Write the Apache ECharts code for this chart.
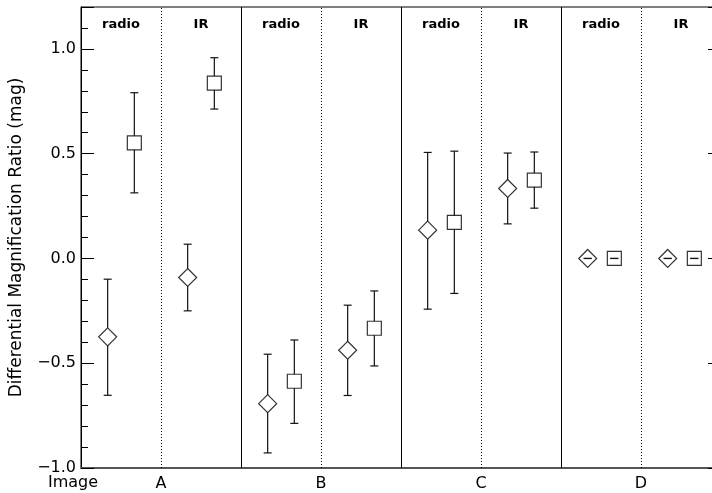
<!DOCTYPE html>
<html>
<head>
<meta charset="utf-8">
<script src="https://cdn.jsdelivr.net/npm/echarts@6/dist/echarts.min.js"></script>
<style>html,body{margin:0;padding:0;background:#fff;}#c{width:712px;height:493px;}</style>
</head>
<body>
<div id="c"></div>
<script>
// ---- data ----
var groupLabels = ['radio', 'IR', 'radio', 'IR', 'radio', 'IR', 'radio', 'IR'];
var xTickLabels = ['', 'A', '', 'B', '', 'C', '', 'D', ''];
var solidDividers = [2, 4, 6];
var dottedDividers = [1, 3, 5, 7];
var diamondVal = [-0.374, -0.091, -0.693, -0.438, 0.135, 0.334, 0, 0];
var diamondLo  = [-0.653, -0.250, -0.928, -0.654, -0.242, 0.165, 0, 0];
var diamondHi  = [-0.099, 0.068, -0.457, -0.223, 0.506, 0.503, 0, 0];
var squareVal  = [0.552, 0.837, -0.586, -0.333, 0.172, 0.374, 0, 0];
var squareLo   = [0.313, 0.713, -0.787, -0.513, -0.167, 0.240, 0, 0];
var squareHi   = [0.791, 0.958, -0.389, -0.155, 0.512, 0.508, 0, 0];
var yMin = -1.0, yMax = 1.2;
var yTitle = 'Differential Magnification Ratio (mag)';
var xTitle = 'Image';

var FONT = 'DejaVu Sans';
var chart = echarts.init(document.getElementById('c'), null, {renderer: 'canvas'});

function pts(vals, lo, hi, off) {
  return vals.map(function (v, k) { return [k + off, v, lo[k], hi[k]]; });
}
var diamondData = pts(diamondVal, diamondLo, diamondHi, 1 / 3);
var squareData = pts(squareVal, squareLo, squareHi, 2 / 3);

function errRender(half) {
  return function (params, api) {
    var x = api.value(0);
    var c = api.coord([x, api.value(1)]);
    var lo = api.coord([x, api.value(2)]);
    var hi = api.coord([x, api.value(3)]);
    var st = {stroke: '#111', lineWidth: 1.2};
    var ch = [];
    if (hi[1] < c[1] - half) ch.push({type: 'line', shape: {x1: c[0], y1: hi[1], x2: c[0], y2: c[1] - half}, style: st});
    if (lo[1] > c[1] + half) ch.push({type: 'line', shape: {x1: c[0], y1: c[1] + half, x2: c[0], y2: lo[1]}, style: st});
    ch.push({type: 'line', shape: {x1: c[0] - 4, y1: hi[1], x2: c[0] + 4, y2: hi[1]}, style: st});
    ch.push({type: 'line', shape: {x1: c[0] - 4, y1: lo[1], x2: c[0] + 4, y2: lo[1]}, style: st});
    return {type: 'group', children: ch};
  };
}

function yAxisDef(pos, interval, len, withLabels) {
  var a = {
    type: 'value', position: pos, min: yMin, max: yMax, interval: interval,
    axisLine: {show: true, lineStyle: {color: '#000', width: 1}},
    axisTick: {show: true, inside: true, length: len, lineStyle: {color: '#000', width: 1}},
    splitLine: {show: false},
    axisLabel: {show: false}
  };
  if (withLabels) {
    a.axisLabel = {
      show: true, margin: 5, color: '#000', fontFamily: FONT, fontSize: 16,
      formatter: function (v) {
        var r = Math.round(v * 2);
        if (Math.abs(v * 2 - r) > 1e-6) return '';
        var t = Math.abs(r / 2).toFixed(1);
        return (r < 0 ? '\u2212' : '') + t;
      }
    };
    a.name = yTitle;
    a.nameLocation = 'middle';
    a.nameGap = 56;
    a.nameRotate = 90;
    a.nameTextStyle = {color: '#000', fontFamily: FONT, fontSize: 17};
  }
  return a;
}

var option = {
  backgroundColor: '#fff',
  animation: false,
  grid: {left: 81, top: 7, width: 640, height: 461, show: true, borderColor: '#000', borderWidth: 1,
    backgroundColor: 'transparent', containLabel: false, outerBoundsMode: 'none'},
  xAxis: {
    type: 'value', min: 0, max: xTickLabels.length - 1, interval: 1,
    axisLine: {show: true, onZero: false, lineStyle: {color: '#555', width: 2}},
    axisTick: {show: false},
    splitLine: {show: false},
    axisLabel: {
      margin: 8, color: '#000', fontFamily: FONT, fontSize: 16,
      formatter: function (v) { return xTickLabels[Math.round(v)] || ''; }
    }
  },
  yAxis: [
    yAxisDef('left', 0.1, 7, true),
    yAxisDef('left', 0.5, 13, false),
    yAxisDef('right', 0.1, 7, false),
    yAxisDef('right', 0.5, 13, false)
  ],
  graphic: [{
    type: 'text', left: 48, top: 475,
    style: {text: xTitle, fontFamily: FONT, fontSize: 16, fill: '#000'}
  }],
  series: [
    {
      type: 'line', data: [], silent: true,
      markLine: {
        silent: true, symbol: 'none', label: {show: false},
        lineStyle: {color: '#000', width: 1, type: 'solid'},
        data: solidDividers.map(function (v) { return {xAxis: v}; })
      }
    },
    {
      type: 'line', data: [], silent: true,
      markLine: {
        silent: true, symbol: 'none', label: {show: false},
        lineStyle: {color: '#000', width: 1, type: [1, 2]},
        data: dottedDividers.map(function (v) { return {xAxis: v}; })
      }
    },
    {
      type: 'custom', silent: true,
      data: groupLabels.map(function (g, k) { return [k + 0.5, g]; }),
      renderItem: function (params, api) {
        var p = api.coord([api.value(0), yMax]);
        return {type: 'text', x: p[0], y: p[1] + 18,
          style: {text: groupLabels[params.dataIndex], fontFamily: FONT, fontSize: 13, fontWeight: 'bold', fill: '#000', align: 'center', verticalAlign: 'middle'}};
      }
    },
    {type: 'custom', data: diamondData, renderItem: errRender(9), z: 3},
    {type: 'custom', data: squareData, renderItem: errRender(7), z: 3},
    {
      type: 'scatter', data: diamondData, symbol: 'diamond', symbolSize: [18, 18], z: 4,
      itemStyle: {color: 'rgba(255,255,255,0)', borderColor: '#000', borderWidth: 1.2}
    },
    {
      type: 'scatter', data: squareData, symbol: 'rect', symbolSize: [14, 14], z: 4,
      itemStyle: {color: 'rgba(255,255,255,0)', borderColor: '#000', borderWidth: 1.2}
    }
  ]
};
chart.setOption(option);
</script>
</body>
</html>
